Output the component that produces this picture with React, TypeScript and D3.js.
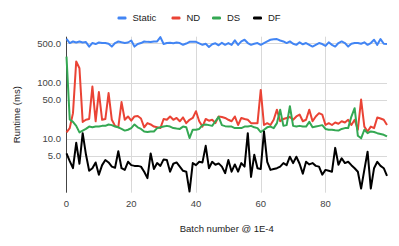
import * as d3 from 'd3'

// batch index 0..99
const batches = d3.range(0, 100)

const staticMs = [
  600, 505, 538, 517, 538, 517, 525, 437, 505, 485,
  517, 505, 505, 490, 437, 505, 538, 520, 505, 517,
  561, 437, 485, 505, 538, 530, 525, 538, 540, 645,
  485, 505, 510, 500, 515, 505, 470, 495, 530, 530,
  530, 500, 470, 490, 430, 480, 500, 460, 510, 470,
  505, 469, 565, 469, 540, 578, 505, 469, 490, 505,
  469, 505, 540, 578, 590, 594, 560, 540, 505, 540,
  490, 469, 520, 480, 505, 469, 437, 469, 505, 485,
  450, 520, 469, 437, 505, 540, 505, 437, 490, 505,
  505, 490, 520, 469, 505, 578, 469, 594, 490, 485,
]

const ndMs = [
  13, 15.5, 28.6, 237, 180, 20, 21.8, 22.5, 85, 20.5,
  68, 21.8, 22.5, 65, 21.8, 17, 16, 45, 21.8, 25,
  21, 25, 25.5, 23, 16, 19, 18, 16.5, 16, 15.5,
  22.5, 21.8, 25, 21.8, 23.5, 20.5, 24, 19, 21.8, 23.5,
  31, 20.5, 16.5, 22.5, 21, 21.8, 19, 25, 24.5, 23.5,
  21.8, 20.5, 25, 17.6, 23.5, 22.5, 21.8, 19, 19, 19,
  74, 17.6, 19, 17.6, 21.8, 33, 20.5, 22.5, 23.5, 24.5,
  21.8, 25, 27, 20.5, 21.8, 33, 20.5, 25, 28.6, 27,
  17.6, 19, 17.6, 19.5, 18.5, 20.5, 19.5, 21.8, 17.6, 21.8,
  14.5, 50, 16.5, 13.5, 16.5, 15.5, 24, 23, 21.8, 17.6,
]

const dsMs = [
  290, 22, 20, 17, 13, 14, 15, 16.5, 16, 16.5,
  16.5, 17, 17, 18, 17.5, 16.5, 16, 15, 14, 14.5,
  15.5, 18, 16, 15, 13.5, 13.2, 13.5, 13.5, 15.5, 16,
  16.5, 17, 16.5, 15.5, 15.2, 15, 16.5, 16, 10.3, 14.5,
  14.5, 15, 17.5, 18, 17.5, 17, 20.5, 24.5, 17.5, 16.8,
  16.5, 16.5, 15.5, 15.5, 15.5, 16.5, 16.5, 17, 16, 15.5,
  13.2, 14.5, 16, 16.5, 15.5, 19, 33, 17, 17.5, 38,
  17, 16.5, 17, 16.5, 16.5, 20, 16, 16.5, 17, 17.5,
  15, 14.5, 14.5, 14.2, 14, 15, 15.5, 15.5, 24.9, 35,
  11.3, 10.2, 14.5, 12.6, 13.5, 13.2, 12.6, 12.2, 11.8, 11,
]

const dfMs = [
  5.5, 4.0, 3.0, 8.5, 3.6, 12.6, 5.3, 2.7, 3.0, 3.8,
  2.3, 3.4, 4.2, 3.8, 3.2, 3.05, 6.0, 3.0, 2.8, 3.9,
  3.4, 3.3, 3.3, 3.2, 2.6, 2.0, 5.5, 2.9, 3.7, 3.3,
  4.3, 4.2, 2.6, 3.6, 3.8, 3.2, 2.7, 2.6, 1.15, 3.7,
  3.4, 3.9, 3.8, 7.5, 3.0, 3.9, 3.45, 3.65, 3.2, 2.45,
  4.2, 2.6, 3.5, 2.6, 3.7, 3.2, 12.6, 2.1, 5.2, 3.0,
  2.9, 13.5, 3.9, 2.8, 2.9, 3.0, 3.2, 3.7, 3.4, 4.8,
  3.7, 4.8, 3.6, 2.4, 3.9, 3.5, 3.7, 3.3, 3.2, 2.3,
  2.8, 2.7, 2.6, 6.9, 3.45, 4.5, 3.7, 3.9, 3.4, 3.0,
  2.6, 1.3, 2.8, 5.9, 1.3, 3.0, 3.9, 3.3, 3.0, 2.2,
]

const seriesNames = ['Static', 'ND', 'DS', 'DF']
const seriesColors = ['#4285f4', '#ea4335', '#34a853', '#000000']
const seriesValues = [staticMs, ndMs, dsMs, dfMs]

const yTicks = [5, 10, 50, 100, 500]
const xTicks = [0, 20, 40, 60, 80]

const W = 399
const H = 246
const plot = { left: 66.5, right: 387, top: 36.7, bottom: 192.7 }
const font = '"Liberation Sans", Arial, sans-serif'
const legendX = [117.5, 171.5, 212, 253]

export default function App() {
  const x = d3.scaleLinear().domain([0, 99]).range([plot.left, plot.right])
  const y = d3.scaleLog().domain([1.1, 655]).range([plot.bottom, plot.top])
  const fmt = d3.format('.1f')

  const line = d3.line<number>()
    .x((_, i) => x(batches[i]))
    .y(d => y(d))

  return (
    <svg width={W} height={H} style={{ position: 'absolute', left: 0, top: 0, background: '#fff' }}
      fontFamily={font}>
      {/* grid */}
      {yTicks.map(t => (
        <line key={'gy' + t} x1={plot.left} x2={plot.right} y1={Math.round(y(t)) + 0.5} y2={Math.round(y(t)) + 0.5}
          stroke="#d9d9d9" strokeWidth={1} />
      ))}
      {xTicks.filter(t => t > 0).map(t => (
        <line key={'gx' + t} x1={Math.round(x(t)) + 0.5} x2={Math.round(x(t)) + 0.5} y1={plot.top} y2={plot.bottom}
          stroke="#d9d9d9" strokeWidth={1} />
      ))}
      <line x1={66.5} x2={66.5} y1={plot.top} y2={plot.bottom} stroke="#444" strokeWidth={1} />

      {/* series */}
      {seriesValues.map((vals, i) => (
        <path key={seriesNames[i]} d={line(vals) ?? ''} fill="none" stroke={seriesColors[i]}
          strokeWidth={2} strokeLinejoin="round" />
      ))}

      {/* y tick labels */}
      {yTicks.map(t => (
        <text key={'ty' + t} x={61} y={y(t)} dy="0.35em" textAnchor="end" fontSize={9.5} fill="#444">
          {fmt(t)}
        </text>
      ))}
      {/* x tick labels */}
      {xTicks.map(t => (
        <text key={'tx' + t} x={x(t)} y={206.5} textAnchor="middle" fontSize={9.5} fill="#444">
          {t}
        </text>
      ))}

      {/* axis titles */}
      <text x={(plot.left + plot.right) / 2} y={231.5} textAnchor="middle" fontSize={9.5} fill="#222">
        Batch number @ 1E-4
      </text>
      <text transform={`translate(19.5, ${(plot.top + plot.bottom) / 2}) rotate(-90)`} textAnchor="middle"
        fontSize={9.5} fill="#222">
        Runtime (ms)
      </text>

      {/* legend */}
      {seriesNames.map((name, i) => (
        <g key={'lg' + name} transform={`translate(${legendX[i]}, 18)`}>
          <rect x={0} y={-1.5} width={9} height={3} rx={1.2} fill={seriesColors[i]} />
          <text x={15} y={0} dy="0.35em" fontSize={9.5} fill="#222">{name}</text>
        </g>
      ))}
    </svg>
  )
}
